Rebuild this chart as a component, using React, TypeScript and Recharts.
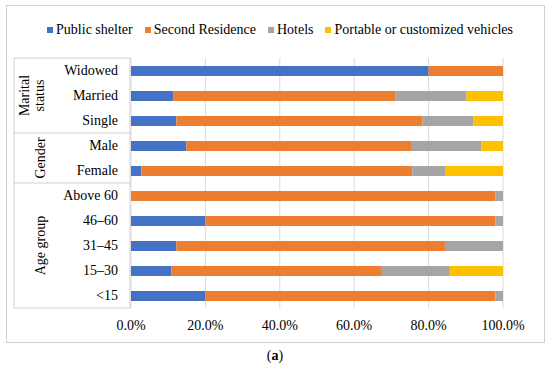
import React from 'react';
import * as RC from 'recharts';
import { BarChart, Bar, XAxis, YAxis, CartesianGrid } from 'recharts';

const categories = ['Widowed', 'Married', 'Single', 'Male', 'Female', 'Above 60', '46–60', '31–45', '15–30', '<15'];
const publicShelter = [0.8, 0.113, 0.122, 0.149, 0.028, 0, 0.2, 0.122, 0.108, 0.2];
const secondResidence = [0.2, 0.597, 0.662, 0.606, 0.728, 0.98, 0.78, 0.722, 0.564, 0.78];
const hotels = [0, 0.192, 0.137, 0.187, 0.09, 0.02, 0.02, 0.156, 0.185, 0.02];
const vehicles = [0, 0.098, 0.079, 0.058, 0.154, 0, 0, 0, 0.143, 0];
const xTicks = [0, 0.2, 0.4, 0.6, 0.8, 1];

const seriesNames = ['Public shelter', 'Second Residence', 'Hotels', 'Portable or customized vehicles'];
const seriesKeys = ['publicShelter', 'secondResidence', 'hotels', 'vehicles'];
const seriesColors = ['#4472C4', '#ED7D31', '#A5A5A5', '#FFC000'];

const groups = [
  { lines: ['Marital', 'status'], start: 0, end: 3 },
  { lines: ['Gender'], start: 3, end: 5 },
  { lines: ['Age group'], start: 5, end: 10 },
];

const data = categories.map((name, i) => ({
  name,
  publicShelter: publicShelter[i],
  secondResidence: secondResidence[i],
  hotels: hotels[i],
  vehicles: vehicles[i],
}));

const FONT = 'Liberation Serif';
const LINE = '#d0d0d0';

const usePlotHook: any = (RC as any).usePlotArea || (RC as any).useOffset || (() => null);

function GroupBox() {
  const p: any = usePlotHook();
  if (!p) return null;
  let px: number, py: number, ph: number;
  if (p.height !== undefined && p.x !== undefined) {
    px = p.x; py = p.y; ph = p.height;
  } else {
    px = p.left; py = p.top; ph = 368 - p.top - p.bottom;
  }
  const band = ph / categories.length;
  const left = 14;
  const lineXs = [24, 39];
  return (
    <g>
      <line x1={left} x2={left} y1={py} y2={py + ph} stroke={LINE} />
      <line x1={px - 1} x2={px - 1} y1={py} y2={py + ph} stroke={LINE} />
      {groups.map((g, gi) => {
        const y0 = py + g.start * band;
        const y1 = py + g.end * band;
        const cy = (y0 + y1) / 2;
        return (
          <g key={gi}>
            <line x1={left} x2={px - 1} y1={y0} y2={y0} stroke={LINE} />
            {gi === groups.length - 1 && <line x1={left} x2={px - 1} y1={y1} y2={y1} stroke={LINE} />}
            {g.lines.map((t, li) => {
              const x = g.lines.length === 1 ? 40 : lineXs[li];
              return (
                <text key={li} x={x} y={cy} textAnchor="middle" dominantBaseline="central"
                  transform={`rotate(-90 ${x} ${cy})`} fontSize={14} fontFamily={FONT} fill="#000">
                  {t}
                </text>
              );
            })}
          </g>
        );
      })}
    </g>
  );
}

export default function App() {
  return (
    <div style={{ position: 'absolute', left: 0, top: 0, width: 550, height: 368, background: '#fff', fontFamily: FONT }}>
      <div style={{ position: 'absolute', left: 6, top: 5, width: 537, height: 336, border: `1px solid ${LINE}` }} />
      <div style={{ position: 'absolute', left: 0, top: 22, width: 560, display: 'flex', justifyContent: 'center', fontSize: 14, color: '#000', whiteSpace: 'nowrap' }}>
        {seriesNames.map((n, i) => (
          <div key={n} style={{ display: 'flex', alignItems: 'center', marginRight: i < 3 ? 12 : 0 }}>
            <span style={{ display: 'inline-block', width: 6, height: 6, background: seriesColors[i], marginRight: 3 }} />
            <span>{n}</span>
          </div>
        ))}
      </div>
      <div style={{ position: 'absolute', left: 0, top: 0 }}>
        <BarChart width={550} height={368} data={data} layout="vertical" margin={{ top: 58, right: 47, bottom: 30, left: 0 }} style={{ fontFamily: FONT }}>
          <CartesianGrid horizontal={false} stroke="#d9d9d9" />
          <XAxis type="number" domain={[0, 1]} ticks={xTicks} axisLine={false} tickLine={false} tickSize={0} tickMargin={12} height={30}
            tickFormatter={(v: number) => (v * 100).toFixed(1) + '%'}
            tick={{ fill: '#000', fontSize: 14, fontFamily: FONT }} />
          <YAxis type="category" dataKey="name" width={131} axisLine={false} tickLine={false} tickSize={0} tickMargin={13}
            tick={{ fill: '#000', fontSize: 14, fontFamily: FONT }} />
          {seriesKeys.map((k, i) => (
            <Bar key={k} dataKey={k} stackId="a" fill={seriesColors[i]} barSize={10} isAnimationActive={false} />
          ))}
          <GroupBox />
        </BarChart>
      </div>
      <div style={{ position: 'absolute', left: 0, width: 550, top: 348, textAlign: 'center', fontSize: 14, color: '#000' }}>
        (<b>a</b>)
      </div>
    </div>
  );
}
